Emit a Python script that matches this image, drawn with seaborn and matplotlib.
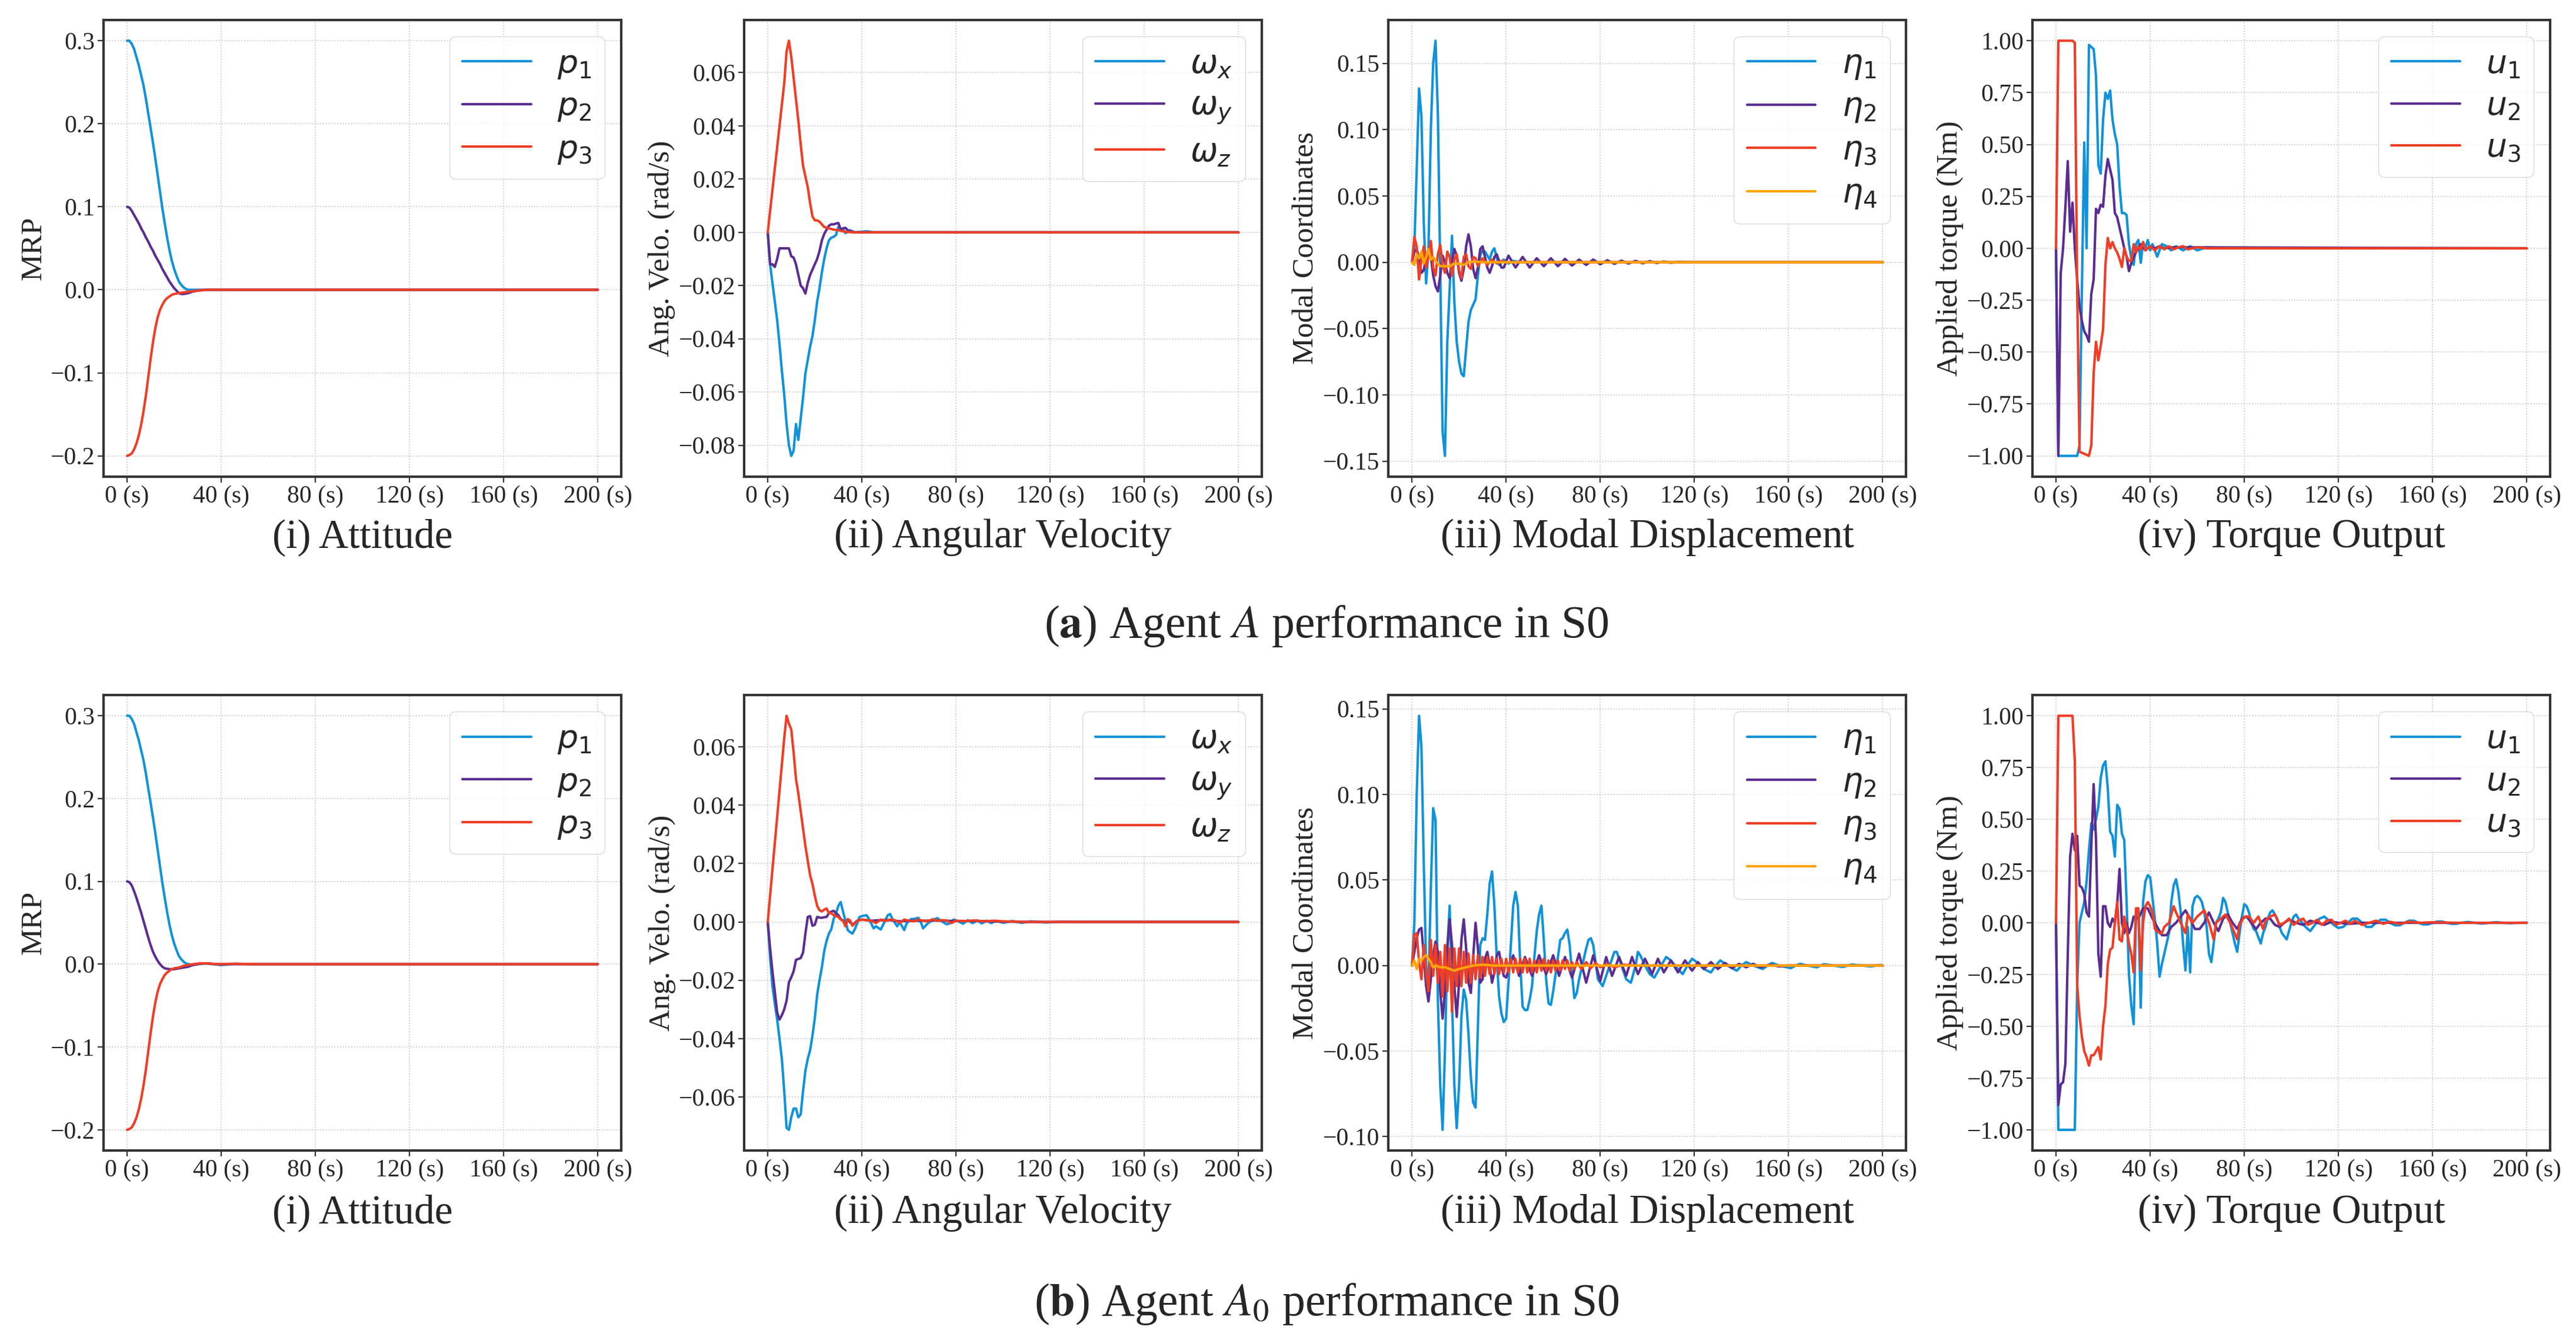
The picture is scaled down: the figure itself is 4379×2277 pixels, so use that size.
"""
Agent A / A0 attitude-control performance in scenario S0 (2 x 4 panels).
"""

import pandas as pd
import matplotlib
matplotlib.use('Agg')
import matplotlib.pyplot as plt
import seaborn as sns

# ---------------------------------------------------------------- data
X_TICKS = [0, 40, 80, 120, 160, 200]

# (a) Agent A  -- (t [s], value)
a_p1 = [(0, .300), (1, .300), (2, .296), (3, .290), (4, .280), (5, .270), (6, .258), (7, .246),
        (8, .230), (9, .212), (10, .195), (11, .177), (12, .158), (13, .138), (14, .118),
        (15, .098), (16, .080), (17, .063), (18, .048), (19, .035), (20, .025), (21, .017),
        (22, .010), (23, .006), (24, .003), (25, .001), (26, 0), (200, 0)]
a_p2 = [(0, .100), (1, .099), (2, .095), (3, .090), (4, .085), (5, .080), (6, .074), (7, .069),
        (8, .063), (9, .058), (10, .052), (11, .047), (12, .041), (13, .036), (14, .031),
        (15, .025), (16, .020), (17, .015), (18, .010), (19, .006), (20, .002), (21, -.001),
        (22, -.004), (23, -.005), (24, -.005), (26, -.004), (28, -.002), (31, -.0005), (34, 0),
        (200, 0)]
a_p3 = [(0, -.200), (1, -.199), (2, -.197), (3, -.192), (4, -.185), (5, -.175), (6, -.162),
        (7, -.146), (8, -.127), (9, -.105), (10, -.083), (11, -.063), (12, -.046), (13, -.033),
        (14, -.024), (15, -.018), (16, -.013), (17, -.010), (18, -.008), (19, -.006), (20, -.005),
        (22, -.004), (24, -.003), (27, -.002), (30, -.001), (34, 0), (200, 0)]

a_wx = [(0, 0), (1, -.012), (2, -.019), (3, -.026), (4, -.033), (5, -.042), (6, -.052), (7, -.061),
        (8, -.072), (9, -.080), (10, -.084), (11, -.082), (12, -.072), (13, -.078), (14, -.070),
        (15, -.062), (16, -.053), (17, -.048), (18, -.043), (19, -.039), (20, -.033), (21, -.026),
        (22, -.021), (23, -.015), (24, -.010), (25, -.006), (26, -.003), (27, -.002), (28, -.0017),
        (29, -.001), (30, .002), (31, .001), (32, .0012), (33, -.0003), (35, .0008), (37, 0),
        (42, .0004), (45, 0), (200, 0)]
a_wy = [(0, 0), (1, -.012), (2, -.012), (3, -.013), (4, -.010), (5, -.006), (6, -.006), (7, -.006),
        (8, -.006), (9, -.006), (10, -.009), (11, -.0095), (12, -.012), (13, -.016), (14, -.020),
        (15, -.021), (16, -.023), (17, -.019), (18, -.016), (19, -.014), (20, -.012), (21, -.010),
        (22, -.007), (23, -.003), (24, -.0006), (25, .001), (26, .0025), (27, .003), (28, .003),
        (29, .0033), (30, .0035), (31, .0011), (32, .0015), (33, .0017), (34, .0008), (35, .0004),
        (37, 0), (200, 0)]
a_wz = [(0, 0), (1, .008), (2, .016), (3, .024), (4, .032), (5, .040), (6, .048), (7, .056),
        (8, .068), (9, .072), (10, .066), (11, .058), (12, .050), (13, .042), (14, .033),
        (15, .025), (16, .021), (17, .017), (18, .011), (19, .006), (20, .0045), (21, .0045),
        (22, .004), (23, .003), (24, .002), (26, .0015), (28, .001), (30, .0008), (33, .0002),
        (36, 0), (200, 0)]

a_eta1 = [(0, 0), (1, .012), (2, .070), (3, .131), (4, .110), (5, .030), (6, -.016), (7, .010),
          (8, .100), (9, .150), (10, .167), (11, .112), (12, -.007), (13, -.128), (14, -.146),
          (15, -.060), (16, -.020), (17, .020), (18, -.030), (19, -.060), (20, -.075), (21, -.084),
          (22, -.086), (23, -.065), (24, -.045), (25, -.036), (26, -.032), (27, -.028), (28, -.010),
          (29, .005), (30, .009), (31, .008), (32, .005), (33, .002), (34, .008), (35, .0105),
          (36, .003), (37, -.002), (38, 0), (39, .002), (41, -.001), (43, .001), (46, 0), (200, 0)]
a_eta2 = [(0, 0), (1, .008), (2, .010), (3, .003), (4, -.008), (5, -.006), (6, .004), (7, .010),
          (8, .004), (9, -.010), (10, -.018), (11, -.022), (12, -.010), (13, .005), (14, 0),
          (15, -.008), (16, -.012), (17, 0), (18, .010), (19, .005), (20, -.008), (21, -.014),
          (22, -.005), (23, .012), (24, .021), (25, .012), (26, -.005), (27, -.012), (28, -.004),
          (29, .010), (30, .012), (31, .004), (32, -.004), (33, -.008), (34, -.003), (35, .004),
          (36, .006), (37, .001), (38, -.004), (39, -.004), (41, .005), (44, -.004), (47, .004),
          (50, -.004), (53, .003), (56, -.003), (59, .003), (62, -.003), (65, .0025), (68, -.0025),
          (71, .002), (74, -.002), (77, .002), (80, -.0015), (83, .0015), (86, -.0012),
          (89, .0012), (92, -.001), (95, .001), (98, -.0008), (101, .0008), (104, -.0006),
          (107, .0005), (110, -.0004), (114, .0003), (118, 0), (200, 0)]
a_eta3 = [(0, 0), (1, .019), (2, .012), (3, -.013), (4, .002), (5, .012), (6, -.004), (7, .004),
          (8, .016), (9, -.004), (10, -.010), (11, .006), (12, .013), (13, -.002), (14, -.008),
          (15, .008), (16, .004), (17, -.010), (18, .002), (19, .006), (20, -.006), (21, -.012),
          (22, .004), (23, .006), (24, -.003), (25, -.005), (26, .004), (27, .003), (28, -.003),
          (30, .003), (32, -.002), (34, .002), (36, -.001), (38, .001), (40, 0), (200, 0)]
a_eta4 = [(0, 0), (1, -.002), (2, .006), (3, .003), (4, .008), (5, -.001), (6, .004), (7, .010),
          (8, .002), (9, .004), (10, .001), (11, -.001), (12, -.003), (14, -.003), (16, -.003),
          (18, -.001), (20, -.001), (22, -.002), (24, 0), (27, .0005), (30, 0), (200, 0)]

a_u1 = [(0, 0), (1, -1), (9, -1), (10, -.95), (11, -.20), (12, .51), (13, 0), (14, .98),
        (15, .97), (16, .96), (17, .83), (18, .40), (19, .36), (20, .62), (21, .75), (22, .72),
        (23, .76), (24, .62), (25, .55), (26, .50), (27, .30), (28, .17), (29, .17), (30, .16),
        (31, .02), (32, -.05), (33, -.08), (34, .02), (35, .04), (36, -.07), (37, .03), (38, 0),
        (39, .04), (40, -.01), (41, .02), (43, -.04), (45, .02), (47, .01), (49, -.01), (51, .01),
        (54, -.01), (57, .01), (60, -.01), (64, .005), (70, 0), (200, 0)]
a_u2 = [(0, 0), (1, -1), (2, -.12), (3, 0), (4, .20), (5, .42), (6, .08), (7, .22), (8, 0),
        (9, -.15), (10, -.28), (11, -.35), (12, -.40), (13, -.42), (14, -.45), (15, -.22),
        (16, -.15), (17, .19), (18, .17), (19, .21), (20, .20), (21, .35), (22, .43), (23, .38),
        (24, .33), (25, .17), (26, .15), (27, .10), (28, .05), (29, 0), (30, -.04), (31, -.11),
        (32, -.07), (33, -.04), (34, -.02), (35, 0), (36, .02), (38, -.01), (40, .01), (42, 0),
        (44, .01), (46, 0), (50, .005), (200, 0)]
a_u3 = [(0, 0), (1, 1), (7, 1), (8, .99), (9, -.20), (10, -.98), (12, -.99), (14, -1.0),
        (15, -.95), (16, -.60), (17, -.45), (18, -.54), (19, -.47), (20, -.39), (21, -.08),
        (22, .05), (23, 0), (24, .03), (25, 0), (26, -.02), (27, -.05), (28, -.09), (29, 0),
        (30, -.04), (31, -.06), (32, -.06), (33, .02), (34, -.02), (35, .01), (36, -.005),
        (37, .03), (38, -.01), (39, 0), (40, .01), (42, -.01), (44, .01), (46, -.005), (48, .01),
        (50, -.005), (52, .005), (54, .01), (56, -.005), (60, .005), (64, 0), (200, 0)]

# (b) Agent A0
b_p1 = [(0, .300), (1, .300), (2, .296), (3, .290), (4, .280), (5, .270), (6, .258), (7, .246),
        (8, .230), (9, .212), (10, .195), (11, .177), (12, .158), (13, .138), (14, .118),
        (15, .098), (16, .080), (17, .063), (18, .048), (19, .035), (20, .025), (21, .017),
        (22, .010), (23, .006), (24, .003), (25, .001), (26, 0), (28, -.0005), (33, .001),
        (40, -.001), (46, .0005), (55, 0), (200, 0)]
b_p2 = [(0, .100), (1, .099), (2, .095), (3, .088), (4, .080), (5, .071), (6, .062), (7, .052),
        (8, .042), (9, .032), (10, .023), (11, .015), (12, .009), (13, .004), (14, 0), (15, -.003),
        (16, -.005), (18, -.006), (20, -.006), (22, -.005), (24, -.004), (26, -.003), (28, -.001),
        (31, .0005), (34, .001), (38, 0), (200, 0)]
b_p3 = [(0, -.200), (1, -.199), (2, -.197), (3, -.192), (4, -.185), (5, -.175), (6, -.162),
        (7, -.146), (8, -.127), (9, -.105), (10, -.083), (11, -.063), (12, -.046), (13, -.033),
        (14, -.024), (15, -.018), (16, -.013), (17, -.010), (18, -.008), (19, -.006), (20, -.005),
        (22, -.004), (24, -.002), (26, -.001), (28, 0), (31, .001), (34, .001), (38, 0),
        (45, .0005), (55, 0), (200, 0)]

b_wx = [(0, 0), (1, -.012), (2, -.022), (3, -.028), (4, -.0335), (5, -.040), (6, -.047),
        (7, -.058), (8, -.0706), (9, -.0713), (10, -.067), (11, -.064), (12, -.064), (13, -.067),
        (14, -.066), (15, -.058), (16, -.051), (17, -.047), (18, -.044), (19, -.039), (20, -.033),
        (21, -.025), (22, -.020), (23, -.0155), (24, -.010), (25, -.0065), (26, -.004),
        (27, -.0025), (28, .001), (29, .003), (30, .0055), (31, .0068), (32, .0035), (33, .0005),
        (34, -.0028), (35, -.0035), (36, -.004), (37, -.0025), (38, -.0005), (39, .0017),
        (40, .002), (42, .0023), (43, .001), (45, -.0022), (46, -.0015), (48, -.0026), (49, -.001),
        (51, .0023), (52, .0027), (53, .001), (55, -.0015), (56, 0), (58, -.0028), (59, -.0005),
        (61, .001), (62, .001), (64, .0014), (65, 0), (66, -.0022), (68, -.0005), (70, .0006),
        (72, .0013), (74, .0002), (76, -.0008), (77, -.0006), (79, .0008), (81, .0002),
        (83, -.0006), (85, .0006), (87, -.0004), (89, .0005), (91, -.0005), (93, .0004),
        (95, -.0004), (97, .0004), (100, -.0003), (104, .0003), (108, -.0003), (112, .0002),
        (118, -.0002), (125, .0001), (132, 0), (200, 0)]
b_wy = [(0, 0), (1, -.009), (2, -.017), (3, -.024), (4, -.031), (5, -.0335), (6, -.032),
        (7, -.030), (8, -.027), (9, -.0207), (10, -.019), (11, -.0169), (12, -.013), (13, -.0127),
        (14, -.0124), (15, -.0105), (16, -.004), (17, .0017), (18, .002), (19, -.0013), (20, -.001),
        (21, .0017), (22, .0015), (23, .0014), (24, .0016), (25, .0017), (26, .003), (27, .0035),
        (28, .0038), (29, .003), (30, .0023), (31, .001), (32, .0005), (33, -.001), (34, .0008),
        (36, -.001), (38, .0004), (40, .0008), (44, .0004), (48, .0006), (52, .0006), (56, .0002),
        (60, .0004), (66, .0004), (72, .0005), (80, .0003), (90, .0003), (100, .0001), (110, 0),
        (200, 0)]
b_wz = [(0, 0), (1, .009), (2, .018), (3, .027), (4, .036), (5, .045), (6, .054), (7, .063),
        (8, .0707), (9, .068), (10, .066), (11, .058), (12, .049), (13, .044), (14, .038),
        (15, .032), (16, .026), (17, .021), (18, .016), (19, .013), (20, .009), (21, .0055),
        (22, .004), (23, .0036), (24, .0042), (25, .0046), (26, .003), (27, .003), (28, .0023),
        (29, .002), (30, .0017), (31, .0008), (32, .0004), (33, -.0015), (34, .001), (35, .0005),
        (36, -.0013), (38, .0004), (40, .0008), (42, .0006), (44, .0004), (46, -.0004),
        (48, .0008), (50, .0003), (52, .0008), (54, .0006), (56, -.0003), (58, .0008), (60, .0004),
        (62, .0002), (64, .0008), (66, .0004), (68, .0002), (70, .0009), (72, .0004), (74, .0006),
        (76, .0005), (78, -.0004), (80, .0004), (84, .0003), (88, .0005), (92, .0002), (96, .0004),
        (100, .0002), (110, 0), (200, 0)]

b_eta1 = [(0, 0), (1, .025), (2, .100), (3, .146), (4, .128), (5, .060), (6, 0), (7, -.012),
          (8, .045), (9, .092), (10, .085), (11, -.020), (12, -.070), (13, -.096), (14, -.050),
          (15, .010), (16, .035), (17, -.020), (18, -.070), (19, -.095), (20, -.070), (21, -.030),
          (22, -.014), (23, -.020), (24, -.040), (25, -.065), (26, -.080), (27, -.083), (28, -.035),
          (29, .012), (30, .016), (31, .015), (32, .030), (33, .048), (34, .055), (35, .035),
          (36, .005), (37, -.018), (38, -.028), (39, -.033), (40, -.031), (41, -.010), (42, .012),
          (43, .035), (44, .043), (45, .035), (46, 0), (47, -.024), (48, -.026), (49, -.026),
          (50, -.020), (51, -.012), (52, .005), (53, .020), (54, .030), (55, .035), (56, .015),
          (57, -.008), (58, -.022), (59, -.023), (60, -.015), (61, -.005), (62, .005), (63, .015),
          (64, .016), (65, .019), (66, .021), (67, .012), (68, -.005), (69, -.019), (70, -.016),
          (71, -.008), (72, -.002), (73, .004), (74, .010), (75, .015), (76, .016), (77, .012),
          (78, .002), (79, -.008), (80, -.010), (81, -.012), (82, -.008), (84, 0), (86, .008),
          (87, .008), (89, 0), (91, -.008), (93, -.010), (95, 0), (96, .008), (97, .006), (99, 0),
          (101, -.005), (103, -.007), (105, -.002), (108, .005), (110, .003), (113, -.002),
          (115, -.005), (117, 0), (119, .004), (121, .002), (124, -.002), (127, -.004), (129, 0),
          (131, .003), (134, 0), (138, -.003), (140, 0), (142, .002), (145, 0), (149, -.002),
          (151, 0), (153, .0015), (156, 0), (161, -.0015), (163, 0), (165, .001), (168, 0),
          (172, -.001), (175, .0008), (179, 0), (183, -.0008), (187, .0006), (191, 0),
          (195, -.0005), (199, .0003), (200, 0)]
b_eta2 = [(0, 0), (1, .008), (2, .016), (3, .021), (4, .022), (5, .006), (6, -.012), (7, -.021),
          (8, -.008), (9, .006), (10, .014), (11, .008), (12, -.015), (13, -.031), (14, -.015),
          (15, .010), (16, .027), (17, .012), (18, -.012), (19, -.030), (20, -.010), (21, .015),
          (22, .027), (23, .010), (24, -.010), (25, -.016), (26, .005), (27, .025), (28, .010),
          (29, -.010), (30, -.008), (31, .004), (32, .008), (33, 0), (34, -.010), (35, -.004),
          (36, .006), (37, .008), (38, 0), (39, -.006), (40, -.007), (43, .006), (45.5, -.006),
          (48, .005), (51, -.006), (54, .006), (57, -.005), (60, .006), (62.5, -.006), (65, .005),
          (68, -.007), (71, .007), (74, -.010), (77, .006), (80, -.009), (82.5, .005), (85, -.006),
          (88, .005), (91, -.006), (93.5, .005), (96, -.005), (99, .004), (102, -.005),
          (104.5, .004), (107, -.004), (110, .003), (113, -.004), (116, .003), (119, -.003),
          (121.5, .002), (124, -.002), (127, .002), (130, -.002), (133, .0015), (136, -.0015),
          (139, .001), (142, -.001), (145, .001), (148, -.001), (152, .0005), (156, -.0005),
          (160, 0), (200, 0)]
b_eta3 = [(0, 0), (1, .018), (2, .019), (3, .002), (4, -.008), (5, .012), (6, -.004), (7, -.015),
          (8, .015), (9, -.006), (10, .012), (11, -.010), (12, .008), (13, -.018), (14, .012),
          (15, -.015), (16, .010), (17, -.027), (18, .010), (19, -.012), (20, .010), (21, -.012),
          (22, .008), (23, -.010), (24, .007), (25, -.010), (26, .006), (27, -.008), (28, .006),
          (29, -.007), (30, .005), (31, -.006), (32, .005), (33, -.005), (34, .005), (35, -.005),
          (36, .004), (37, -.005), (38, .004), (39, -.004), (40, .004), (41, -.004), (42, .004),
          (43, -.004), (44, .004), (45, -.004), (46, .004), (47, -.004), (48, .004), (49, -.004),
          (50, .004), (51, -.004), (52, .003), (53, -.004), (54, .003), (55, -.003), (56, .004),
          (57, -.003), (58, .003), (59, -.004), (60, .003), (61, -.003), (62, .003), (63, -.003),
          (64, .003), (65, -.002), (66, .003), (67, -.003), (68, .002), (69, -.002), (70, .002),
          (72, -.002), (74, .002), (76, -.0015), (78, .0015), (80, -.001), (83, .001),
          (86, -.001), (90, .0005), (95, 0), (200, 0)]
b_eta4 = [(0, 0), (1, .003), (2, -.002), (3, .004), (4, .003), (5, .005), (6, .006), (7, .004),
          (8, .002), (9, -.001), (10, 0), (12, -.001), (14, -.001), (16, -.002), (18, -.003),
          (20, -.002), (23, -.001), (26, 0), (30, .0005), (35, 0), (200, 0)]

b_u1 = [(0, 0), (1, -1), (8, -1), (9, -.30), (10, 0), (11, .05), (12, .10), (13, .20), (14, .35),
        (15, .48), (16, .45), (17, .50), (18, .56), (19, .70), (20, .76), (21, .78), (22, .65),
        (23, .44), (24, .42), (25, .32), (26, .57), (27, .55), (28, .43), (29, .40), (30, .10),
        (31, -.25), (32, -.40), (33, -.49), (34, .05), (35, .06), (36, -.41), (37, .10), (38, .20),
        (39, .23), (40, .22), (41, .12), (42, .02), (43, -.10), (44, -.26), (45, -.20), (46, -.15),
        (47, -.10), (48, -.05), (49, .10), (50, .18), (51, .21), (52, .15), (53, .05), (54, -.10),
        (55, -.23), (56, -.02), (57, -.24), (58, .08), (59, .12), (60, .13), (61, .12), (62, .10),
        (63, .05), (64, -.02), (65, -.15), (66, -.19), (67, -.10), (68, 0), (69, .02), (70, .05),
        (71, .12), (72, .10), (73, .05), (74, 0), (75, -.05), (76, -.10), (77, -.14), (78, -.05),
        (79, .03), (80, .09), (81, .08), (82, .05), (83, 0), (84, -.03), (85, -.04), (87, -.10),
        (88, -.05), (89, -.02), (90, .02), (91, .05), (92, .06), (93, .04), (94, .02), (95, -.02),
        (96, -.05), (98, -.08), (99, -.04), (100, 0), (101, .03), (102, .04), (103, .02),
        (104, .01), (106, -.02), (108, -.04), (110, -.01), (112, .02), (114, .03), (116, .01),
        (118, -.01), (120, -.025), (122, -.02), (124, 0), (126, .02), (128, .02), (130, 0),
        (132, -.02), (134, -.02), (136, 0), (138, .015), (140, .015), (142, 0), (144, -.012),
        (146, -.012), (148, 0), (150, .01), (152, .01), (154, 0), (156, -.008), (158, -.008),
        (160, 0), (162, .006), (164, .006), (166, 0), (168, -.005), (170, -.005), (172, 0),
        (175, .004), (178, 0), (181, -.004), (184, 0), (187, .003), (190, 0), (193, -.002),
        (196, 0), (200, .001)]
b_u2 = [(0, 0), (1, -.88), (2, -.78), (3, -.77), (4, -.68), (5, -.15), (6, .32), (7, .43),
        (8, .35), (9, .42), (10, .18), (11, .17), (12, .14), (13, .05), (14, .03), (15, .37),
        (16, .67), (17, .40), (18, -.15), (19, -.26), (20, .08), (21, .08), (22, 0), (23, -.02),
        (24, .02), (25, 0), (26, .09), (27, .26), (28, 0), (29, -.05), (30, 0), (31, -.05),
        (32, -.02), (33, .03), (35, .02), (37, .07), (39, .07), (41, .02), (43, -.02), (45, -.06),
        (47, -.06), (49, -.02), (51, 0), (53, .03), (55, .06), (57, .02), (59, -.03), (61, -.03),
        (63, 0), (65, .05), (67, 0), (69, -.04), (71, .02), (73, .04), (75, 0), (77, -.03),
        (79, .02), (81, .03), (83, 0), (85, -.03), (87, 0), (89, .02), (91, .02), (93, -.01),
        (95, -.02), (97, 0), (99, .015), (102, 0), (105, -.01), (108, .01), (111, 0), (114, -.01),
        (117, .005), (120, 0), (125, -.005), (130, 0), (200, 0)]
b_u3 = [(0, 0), (1, 1), (7, 1), (8, .78), (9, -.30), (10, -.45), (11, -.55), (12, -.62),
        (13, -.65), (14, -.69), (15, -.64), (16, -.64), (17, -.62), (18, -.60), (19, -.66),
        (20, -.50), (21, -.40), (22, -.20), (23, -.13), (24, -.12), (25, 0), (26, .10), (27, -.08),
        (28, -.09), (29, .03), (30, -.03), (31, -.10), (32, -.15), (33, -.24), (34, .07), (35, .07),
        (36, -.23), (37, 0), (38, .08), (39, .10), (40, .08), (41, .05), (42, -.03), (44, -.05),
        (45, -.05), (46, -.02), (48, 0), (50, .08), (51, .05), (53, 0), (55, -.05), (56, .04),
        (58, 0), (60, .03), (62, .05), (63, .06), (65, 0), (67, -.08), (68, 0), (70, .02),
        (72, .04), (74, 0), (77, -.08), (78, -.01), (80, .03), (82, .03), (84, 0), (86, .03),
        (88, -.03), (89, .01), (91, .03), (93, .04), (95, -.01), (97, 0), (99, .02), (101, -.01),
        (103, .01), (105, .02), (107, -.01), (109, 0), (111, .015), (113, -.01), (115, .01),
        (117, .015), (119, -.01), (121, 0), (123, .01), (125, -.005), (127, .01), (130, -.01),
        (133, 0), (136, .01), (139, -.005), (142, .005), (146, -.005), (150, .005), (155, 0),
        (160, .003), (170, 0), (200, 0)]

# ---------------------------------------------------------------- style
BLUE, PURPLE, RED, ORANGE = '#1192d8', '#5b2d90', '#ee3e26', '#ffa40a'
LW = 3.0

sns.set_style('ticks')
plt.rcParams['font.family'] = ['Liberation Serif', 'DejaVu Serif']
plt.rcParams['axes.unicode_minus'] = True


def montar_df(series):
    """Long table (serie, t, valor) from a list of (label, points)."""
    linhas = []
    for nome, pontos in series:
        for t, v in pontos:
            linhas.append((nome, t, v))
    return pd.DataFrame(linhas, columns=['serie', 't', 'valor'])


def desenhar_painel(ax, series, cores, ylabel):
    df = montar_df(series)
    sns.lineplot(data=df, x='t', y='valor', hue='serie', palette=cores,
                 linewidth=LW, estimator=None, sort=False, ax=ax)

    ax.set_xticks(X_TICKS)
    ax.set_xticklabels([f'{t} (s)' for t in X_TICKS])
    ax.tick_params(labelsize=30, length=7, width=1.6, color='#333333')
    ax.set_xlabel('')
    ax.set_ylabel(ylabel, fontsize=37)
    ax.grid(True, linestyle=':', linewidth=1.3, color='#c8c8c8')
    for sp in ax.spines.values():
        sp.set_color('#333333')
        sp.set_linewidth(3)

    handles, labels = ax.get_legend_handles_labels()
    leg = ax.legend(handles, labels, loc='upper right', fontsize=40, handlelength=2.1,
                    labelspacing=0.35, handletextpad=0.8, borderpad=0.4,
                    frameon=True, fancybox=True, framealpha=0.8, edgecolor='#d0d0d0')
    for linha in leg.get_lines():
        linha.set_linewidth(LW)


fig = plt.figure(figsize=(43.79, 22.77), dpi=100)

lefts = [0.0402, 0.2889, 0.539, 0.789]
largura = 0.201
linhas = [(0.6443, 0.3408), (0.1414, 0.3399)]

subtitulos = ['(i) Attitude', '(ii) Angular Velocity',
              '(iii) Modal Displacement', '(iv) Torque Output']
ylabels = ['MRP', 'Ang. Velo. (rad/s)', 'Modal Coordinates', 'Applied torque (Nm)']

paineis = [
    [
        [('$p_1$', a_p1), ('$p_2$', a_p2), ('$p_3$', a_p3)],
        [(r'$\omega_x$', a_wx), (r'$\omega_y$', a_wy), (r'$\omega_z$', a_wz)],
        [(r'$\eta_1$', a_eta1), (r'$\eta_2$', a_eta2), (r'$\eta_3$', a_eta3), (r'$\eta_4$', a_eta4)],
        [('$u_1$', a_u1), ('$u_2$', a_u2), ('$u_3$', a_u3)],
    ],
    [
        [('$p_1$', b_p1), ('$p_2$', b_p2), ('$p_3$', b_p3)],
        [(r'$\omega_x$', b_wx), (r'$\omega_y$', b_wy), (r'$\omega_z$', b_wz)],
        [(r'$\eta_1$', b_eta1), (r'$\eta_2$', b_eta2), (r'$\eta_3$', b_eta3), (r'$\eta_4$', b_eta4)],
        [('$u_1$', b_u1), ('$u_2$', b_u2), ('$u_3$', b_u3)],
    ],
]

sub_y = [0.599, 0.0949]
for r, (base, altura) in enumerate(linhas):
    for c in range(4):
        ax = fig.add_axes([lefts[c], base, largura, altura])
        series = paineis[r][c]
        cores = [BLUE, PURPLE, RED, ORANGE][:len(series)]
        desenhar_painel(ax, series, cores, ylabels[c])
        fig.text(lefts[c] + largura / 2, sub_y[r], subtitulos[c],
                 ha='center', va='center', fontsize=50)

fig.text(0.515, 0.533, r'($\mathbf{a}$) Agent $A$ performance in S0',
         ha='center', va='center', fontsize=56, math_fontfamily='stix')
fig.text(0.515, 0.027, r'($\mathbf{b}$) Agent $A_0$ performance in S0',
         ha='center', va='center', fontsize=56, math_fontfamily='stix')

fig.savefig('out.png', dpi=100)
plt.close(fig)
